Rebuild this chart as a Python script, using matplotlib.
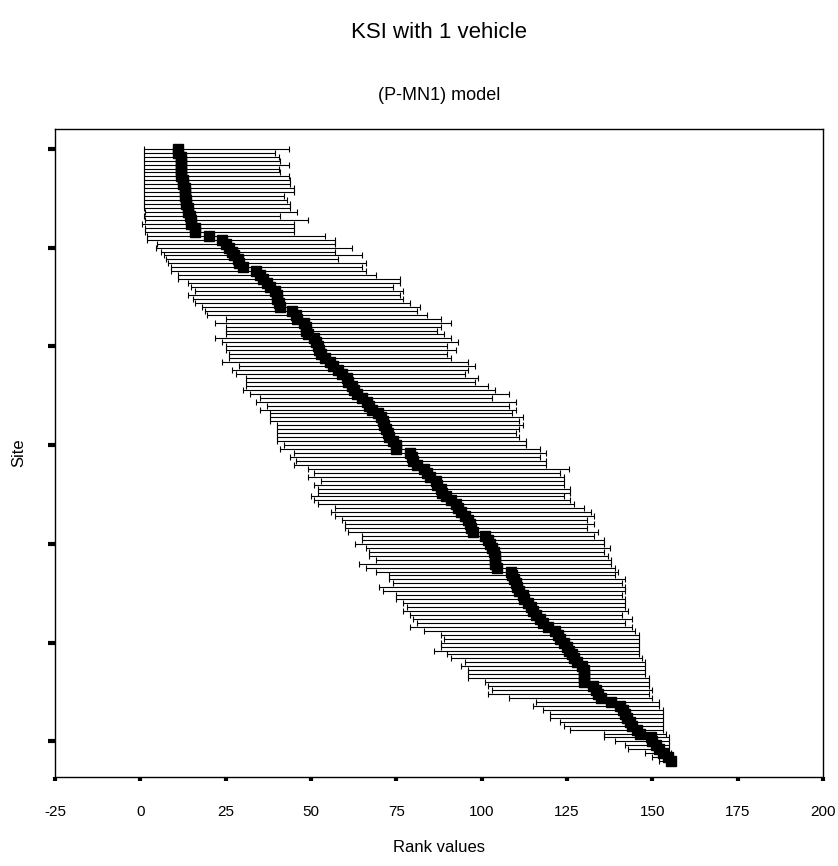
import numpy as np
import matplotlib
matplotlib.use("Agg")
import matplotlib.pyplot as plt

# valeurs (rang median, borne basse, borne haute) par site
median = [11, 11, 12, 12, 12, 12, 12, 12, 12.5, 12.5,
          13, 13, 13, 13.5, 13.5, 14, 14, 14.5, 15, 15,
          16, 16, 20, 24, 25, 26, 27, 27.5, 28.5, 29,
          30, 34, 35, 36, 37, 38, 39.5, 40, 40, 40.5,
          41, 44.5, 45.5, 46, 48, 48.5, 48.5, 49, 51, 51.5,
          52, 52.5, 53, 54, 55.5, 56.5, 58, 59, 60.5, 61,
          62, 62.5, 63.5, 65, 66.5, 67, 68, 69.5, 70.5, 71,
          71.5, 72, 72.5, 73, 74, 75, 75, 79, 79.5, 80,
          81, 83, 84, 85, 86.5, 87, 88, 88.5, 89.5, 91,
          92.5, 93, 94, 95, 96, 96.5, 97, 97.5, 101, 102,
          102.5, 103, 103.5, 104, 104, 104, 104.5, 108.5, 109, 109.5,
          110, 110.5, 111, 112, 112.5, 113.5, 114.5, 115, 116, 117,
          118, 119.5, 121.5, 122.5, 123, 124, 125, 125.5, 126.5, 127,
          128, 129.5, 130, 130, 130, 130, 132.5, 133.5, 134, 135,
          138, 140.5, 141.5, 142, 142.5, 143.5, 144, 145.5, 146.5, 149.5,
          150, 151, 152, 153, 154.5, 155.5]

lower = [1, 1, 1, 1, 1, 1, 1, 1, 1, 1,
         1, 1, 1, 1, 1, 1, 1.5, 1, 1.5, 0.5,
         1.5, 1.5, 2, 2, 5, 4.5, 6, 7, 7.5, 8,
         9, 9, 11, 11, 14, 15, 16, 14, 15.5, 16,
         18, 19, 19.5, 25, 22, 25, 25, 25, 22, 24,
         25, 25, 26, 26, 24, 29, 27, 28, 31, 31,
         31, 30, 32, 35, 34, 37, 35, 38, 38, 38,
         40, 40, 40, 40, 40, 42, 41, 45, 44, 45.5,
         45, 49, 51, 49, 53, 51, 52, 52, 50, 51,
         52, 57, 56, 57, 59, 60, 60, 61, 65, 65,
         63, 66, 67, 67, 69, 64, 66, 69, 73, 73,
         74, 70, 71, 75, 75, 77, 78, 77, 79, 80,
         81, 79, 83, 88, 89, 88, 88, 86, 90, 91,
         95, 94, 96, 96, 96, 101, 102, 103, 102, 108,
         116, 115, 118, 120, 120, 123, 124, 126, 136, 136,
         139, 142, 143, 148, 150, 152]

upper = [43.5, 39.5, 40.5, 41, 43.5, 40.5, 41, 43.5, 44, 44,
         45, 45, 42, 43, 44, 44, 46, 41, 49, 45,
         45, 45, 54, 57, 57, 62, 57, 65, 58, 66,
         65, 66, 69, 76, 76, 74, 77, 76, 77, 79,
         82, 81, 84, 88, 91, 88, 87, 89, 91, 93,
         90, 92.5, 90, 91, 96, 98, 96, 95, 99, 98,
         102, 104, 108, 103, 110, 108, 110, 109, 112, 111,
         112, 111, 110, 111, 113, 113, 117, 119, 117, 119,
         119, 125.5, 123, 124, 124, 124, 126, 126, 124, 126,
         127, 130, 132, 133, 131, 133, 131, 134, 133, 136,
         136, 137.5, 136, 137, 138, 138, 139, 140, 139, 142,
         141, 142, 142, 141, 142, 142, 142, 143, 141, 144,
         142, 144, 145, 146, 146, 146, 146, 146, 146, 147,
         148, 148, 148, 148, 149, 149, 149, 150, 149, 150,
         152, 152, 153, 153, 153, 153, 153, 153, 154, 155,
         155, 155, 155, 155.5, 156, 156]

xticks = [-25, 0, 25, 50, 75, 100, 125, 150, 175, 200]

median = np.array(median)
lower = np.array(lower)
upper = np.array(upper)
site = np.arange(1, len(median) + 1)

police = ['Liberation Sans', 'DejaVu Sans']
police_etroite = ['Liberation Sans Narrow', 'Liberation Sans', 'DejaVu Sans']

fig = plt.figure(figsize=(8.38, 8.66), dpi=100)
ax = fig.add_axes([0.0656, 0.1028, 0.9164, 0.7482])

ax.errorbar(median, site, xerr=[median - lower, upper - median],
            fmt='s', color='black', ms=7.5, elinewidth=0.8,
            capsize=2.5, capthick=0.8)

ax.set_xlim(-25, 200)
ax.set_ylim(160, -4)
ax.set_xticks(xticks)
ax.set_xticklabels([str(v) for v in xticks], family=police_etroite, fontsize=11)
ax.set_yticks([1, 26, 51, 76, 101, 126, 151])
ax.set_yticklabels([])
ax.tick_params(axis='x', direction='out', length=3, width=3, pad=17)
ax.tick_params(axis='y', direction='out', length=5, width=3)

for s in ax.spines.values():
    s.set_linewidth(1.0)

ax.set_xlabel("Rank values", family=police_etroite, fontsize=12, labelpad=15)
ax.set_ylabel("Site", family=police_etroite, fontsize=12, labelpad=12)

fig.text(0.524, 0.963, "KSI with 1 vehicle", ha='center', va='center',
         family=police, fontsize=16)
fig.text(0.524, 0.890, "(P-MN1) model", ha='center', va='center',
         family=police, fontsize=13)

fig.savefig("out.png", dpi=100)
